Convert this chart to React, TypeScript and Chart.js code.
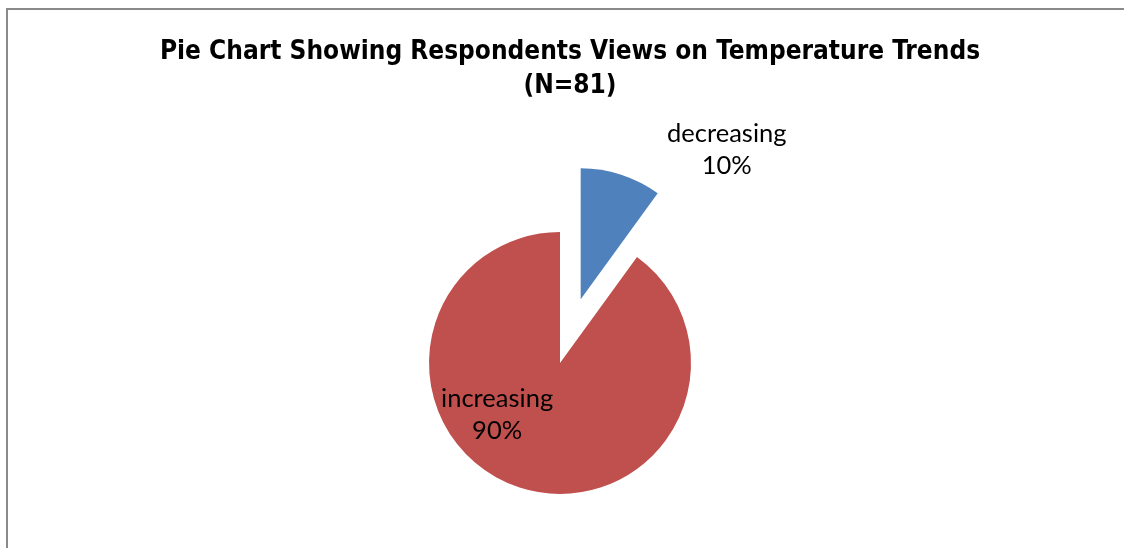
import React, { useEffect, useRef } from "react";
import { Chart, registerables } from "chart.js";

Chart.register(...registerables);

const categories = ["decreasing", "increasing"];
const percentValues = [10, 90];
const sliceColors = ["#4F81BD", "#C0504D"];
const titleLines = ["Pie Chart Showing Respondents Views on Temperature Trends", "(N=81)"];

const TITLE_FONT = "'Liberation Sans Narrow', 'DejaVu Sans Condensed', sans-serif";
const LABEL_FONT = "Lato, 'Open Sans', sans-serif";
const EXPLODE_PX = 67; // explosion distance of the first slice
const PIE_RADIUS = 131;

// Explode the first slice along its mid angle (library computes geometry; we just shift it).
const explodePlugin = {
  id: "explodeFirst",
  afterDatasetUpdate(chart: any, args: any) {
    if (args.index !== 0) return;
    const meta = chart.getDatasetMeta(0);
    const arc = meta.data[0];
    if (!arc) return;
    const mid = (arc.startAngle + arc.endAngle) / 2;
    arc.x += Math.cos(mid) * EXPLODE_PX;
    arc.y += Math.sin(mid) * EXPLODE_PX;
  },
};

const titlePlugin = {
  id: "customTitle",
  afterDraw(chart: any) {
    const ctx = chart.ctx;
    ctx.save();
    ctx.fillStyle = "#000";
    ctx.font = `bold 26px ${TITLE_FONT}`;
    ctx.textAlign = "center";
    ctx.textBaseline = "alphabetic";
    const cx = chart.width / 2 + 1;
    ctx.fillText(titleLines[0], cx, 49);
    ctx.fillText(titleLines[1], cx, 83);
    ctx.restore();
  },
};

const labelPlugin = {
  id: "sliceLabels",
  afterDatasetsDraw(chart: any) {
    const meta = chart.getDatasetMeta(0);
    const ctx = chart.ctx;
    ctx.save();
    ctx.fillStyle = "#000";
    ctx.font = `25.5px ${LABEL_FONT}`;
    ctx.textAlign = "center";
    ctx.textBaseline = "alphabetic";
    meta.data.forEach((arc: any, i: number) => {
      const { x, y, outerRadius } = arc.getProps(["x", "y", "outerRadius"], true);
      const r = outerRadius;
      let cx: number, b1: number;
      if (i === 0) {
        cx = x + r * 1.115;
        b1 = y - r * 1.2;
      } else {
        cx = x - r * 0.48;
        b1 = y + r * 0.335;
      }
      ctx.fillText(categories[i], cx, b1);
      ctx.fillText(`${percentValues[i]}%`, cx, b1 + 32);
    });
    ctx.restore();
  },
};

export default function App() {
  const ref = useRef<HTMLCanvasElement | null>(null);
  useEffect(() => {
    if (!ref.current) return;
    const chart = new Chart(ref.current, {
      type: "pie",
      data: {
        labels: categories,
        datasets: [
          {
            data: percentValues,
            backgroundColor: sliceColors,
            borderWidth: 0,
            radius: PIE_RADIUS,
          } as any,
        ],
      },
      options: {
        animation: false,
        responsive: false,
        maintainAspectRatio: false,
        layout: { padding: { left: 0, right: 18, top: 100, bottom: 90 } },
        plugins: {
          legend: { display: false },
          tooltip: { enabled: false },
          title: { display: false },
        },
      },
      plugins: [explodePlugin, labelPlugin, titlePlugin],
    });
    return () => chart.destroy();
  }, []);

  return (
    <div
      style={{
        position: "fixed",
        left: 0,
        top: 0,
        width: 1124,
        height: 548,
        overflow: "hidden",
        background: "#fff",
      }}
    >
      <div
        style={{
          position: "absolute",
          left: 6,
          top: 8,
          width: 1126,
          height: 700,
          boxSizing: "border-box",
          border: "2px solid #8a8a8a",
          background: "#fff",
        }}
      >
        <canvas ref={ref} width={1122} height={696} style={{ display: "block", width: 1122, height: 696 }} />
      </div>
    </div>
  );
}
